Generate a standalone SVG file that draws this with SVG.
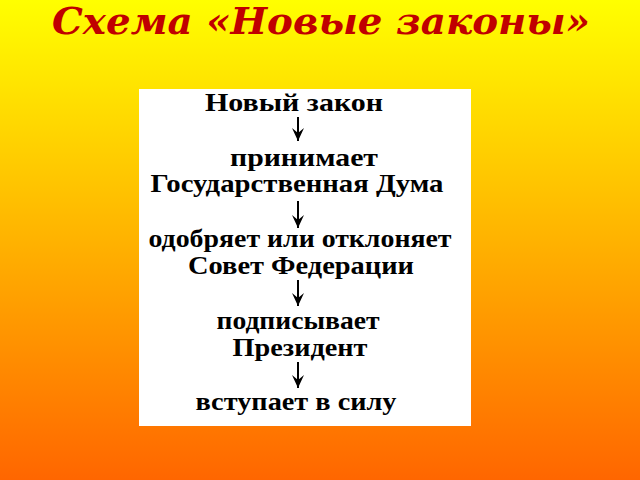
<svg xmlns="http://www.w3.org/2000/svg" width="640" height="480" viewBox="0 0 640 480">
<defs>
<linearGradient id="bg" x1="0" y1="0" x2="0" y2="1">
<stop offset="0" stop-color="#FFFF00"/>
<stop offset="1" stop-color="#FF6600"/>
</linearGradient>
<marker id="ah" markerWidth="16" markerHeight="12" refX="15" refY="6" orient="auto" markerUnits="userSpaceOnUse" viewBox="0 0 16 12">
<path d="M2,0 L15,6 L2,12 L7,6 Z" fill="#000"/>
</marker>
</defs>
<style>
.t{font-family:"Liberation Serif","Times New Roman",serif;font-weight:bold;font-size:25px;fill:#000;text-anchor:middle}
.c{stroke:#000;stroke-width:2;fill:none}
</style>
<rect width="640" height="480" fill="url(#bg)"/>
<text x="321" y="34" font-family="DejaVu Serif, serif" font-weight="bold" font-style="italic" font-size="37" fill="#C00000" text-anchor="middle" textLength="538" lengthAdjust="spacingAndGlyphs">Схема «Новые законы»</text>
<rect x="139" y="89" width="332" height="337" fill="#FFFFFF"/>
<g id="n1"><text class="t" x="294" y="111" textLength="178" lengthAdjust="spacingAndGlyphs">Новый закон</text></g>
<g id="n2"><text class="t" x="304" y="166" textLength="148" lengthAdjust="spacingAndGlyphs">принимает</text>
<text class="t" x="297" y="192" textLength="293" lengthAdjust="spacingAndGlyphs">Государственная Дума</text></g>
<g id="n3"><text class="t" x="300" y="247" textLength="303" lengthAdjust="spacingAndGlyphs">одобряет или отклоняет</text>
<text class="t" x="301" y="274" textLength="226" lengthAdjust="spacingAndGlyphs">Совет Федерации</text></g>
<g id="n4"><text class="t" x="298" y="329" textLength="163" lengthAdjust="spacingAndGlyphs">подписывает</text>
<text class="t" x="300" y="356" textLength="135" lengthAdjust="spacingAndGlyphs">Президент</text></g>
<g id="n5"><text class="t" x="296" y="410" textLength="201" lengthAdjust="spacingAndGlyphs">вступает в силу</text></g>
<g id="connectors">
<line class="c" x1="298" y1="117" x2="298" y2="141" marker-end="url(#ah)"/>
<line class="c" x1="298" y1="201" x2="298" y2="228" marker-end="url(#ah)"/>
<line class="c" x1="298" y1="280" x2="298" y2="306" marker-end="url(#ah)"/>
<line class="c" x1="298" y1="362" x2="298" y2="388" marker-end="url(#ah)"/>
</g>
</svg>
